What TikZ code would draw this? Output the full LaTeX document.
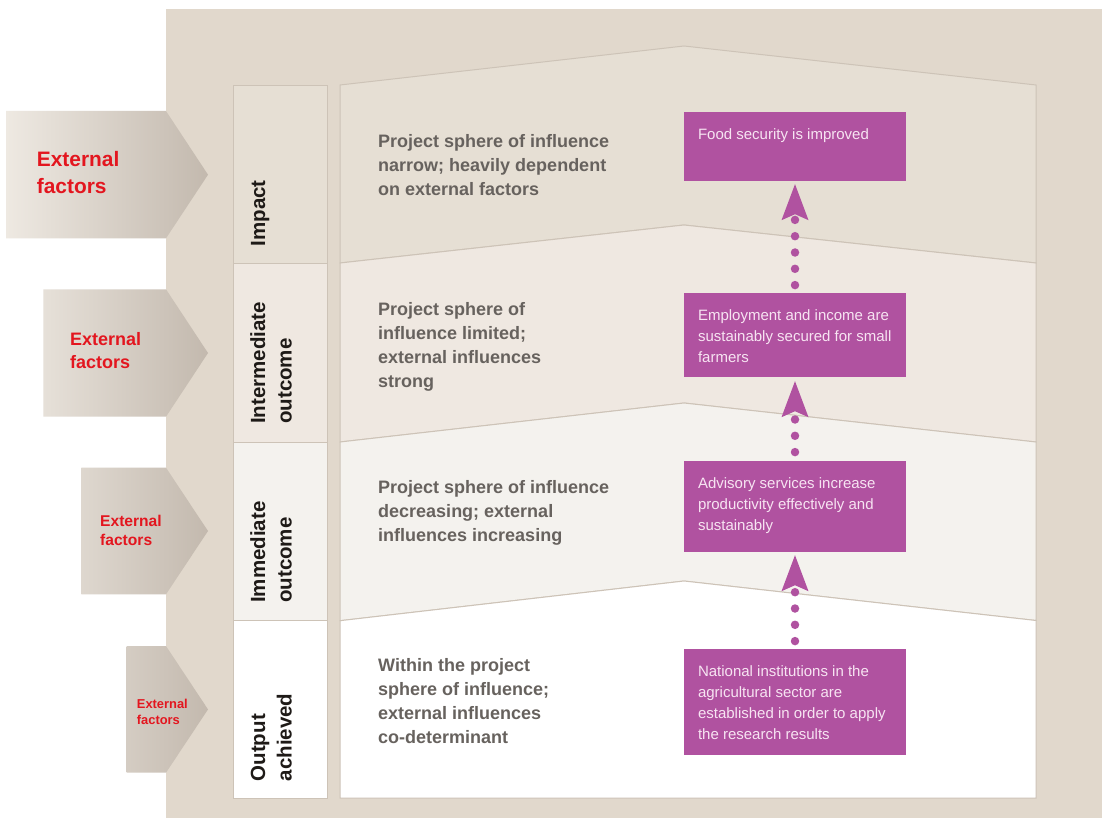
\documentclass[tikz,border=0pt]{standalone}
\usepackage{fontspec}
\setmainfont{Liberation Sans}
\usetikzlibrary{arrows.meta}
\definecolor{panel}{HTML}{E1D8CC}
\definecolor{bandA}{HTML}{E6DFD4}
\definecolor{bandB}{HTML}{EFE8E1}
\definecolor{bandC}{HTML}{F4F2EE}
\definecolor{bandD}{HTML}{FFFFFF}
\definecolor{edgecol}{HTML}{CDC3B7}
\definecolor{plum}{HTML}{B052A0}
\definecolor{plumtext}{HTML}{F7E4F2}
\definecolor{extred}{HTML}{E3161F}
\definecolor{graytext}{HTML}{67625E}
\definecolor{labeltext}{HTML}{1E1A17}
\definecolor{gradL}{HTML}{EEE9E2}
\definecolor{gradR}{HTML}{C3B9AE}
\tikzset{
  bandshape/.style={draw=edgecol, line width=1pt},
  cellshape/.style={draw=edgecol, line width=1pt},
  exttext/.style={text=extred, align=left, anchor=base west, inner sep=0pt},
  rowlabel/.style={rotate=90, anchor=base west, align=left, inner sep=0pt, text=labeltext,
    font=\fontsize{20.5}{26.7}\selectfont\bfseries},
  sphere/.style={anchor=base west, align=left, inner sep=0pt, text=graytext,
    font=\fontsize{18}{24}\selectfont\bfseries},
  resultbox/.style={rectangle, fill=plum, minimum width=222pt, inner sep=0pt, draw=none},
  resulttext/.style={anchor=base west, align=left, inner sep=0pt, text=plumtext,
    font=\fontsize{15}{21}\selectfont},
  dotarrow/.style={draw=plum, line width=8.5pt, line cap=round, dash pattern=on 0pt off 16.3pt,
    -{Stealth[length=36pt, width=27pt, inset=6pt, line width=0pt]}}
}
\begin{document}
\begin{tikzpicture}[x=1pt,y=-1pt]
\useasboundingbox (0,0) rectangle (1102,818);
\fill[white] (0,0) rectangle (1102,818);
% background panel
\fill[panel] (166,9) rectangle (1102,818);

% external factor arrows
\shade[left color=gradL, right color=gradR]
  (6,111) -- (166,111) -- (208,174.7) -- (166,238.3) -- (6,238.3) -- cycle;
\shade[left color=gradR!18.5!gradL, right color=gradR]
  (43.3,289.3) -- (166,289.3) -- (208,353) -- (166,416.7) -- (43.3,416.7) -- cycle;
\shade[left color=gradR!37.3!gradL, right color=gradR]
  (81.3,467.7) -- (166,467.7) -- (208,531) -- (166,594.3) -- (81.3,594.3) -- cycle;
\shade[left color=gradR!59.8!gradL, right color=gradR]
  (126.7,646) -- (166,646) -- (208,709.4) -- (166,772.7) -- (126.7,772.7) -- cycle;

% (multi-line nodes are anchored at the baseline of their last line)
\node[exttext, font=\fontsize{20.9}{26.7}\selectfont\bfseries] (ext1) at (36.7,193.4) {External\\factors};
\node[exttext, font=\fontsize{18}{23.3}\selectfont\bfseries] (ext2) at (70,368.3) {External\\factors};
\node[exttext, font=\fontsize{15.6}{19}\selectfont\bfseries] (ext3) at (100,545) {External\\factors};
\node[exttext, font=\fontsize{12.9}{15.7}\selectfont\bfseries] (ext4) at (136.7,724) {External\\factors};

% left column cells
\draw[cellshape, fill=bandA] (233,85.5) rectangle (327,263);
\draw[cellshape, fill=bandB] (233,263) rectangle (327,442);
\draw[cellshape, fill=bandC] (233,442) rectangle (327,620.7);
\draw[cellshape, fill=bandD] (233,620.7) rectangle (327,798);

% right bands
\draw[bandshape, fill=bandA] (340,85) -- (684,46) -- (1036,85) -- (1036,263) -- (684,225) -- (340,263) -- cycle;
\draw[bandshape, fill=bandB] (340,263) -- (684,225) -- (1036,263) -- (1036,442) -- (684,403) -- (340,442) -- cycle;
\draw[bandshape, fill=bandC] (340,442) -- (684,403) -- (1036,442) -- (1036,620.5) -- (684,581) -- (340,620.7) -- cycle;
\draw[bandshape, fill=bandD] (340,620.7) -- (684,581) -- (1036,620.5) -- (1036,798) -- (340,798) -- cycle;

% row labels
\node[rowlabel] (lab1) at (265,246.5) {Impact};
\node[rowlabel] (lab2) at (291.7,424) {Intermediate\\outcome};
\node[rowlabel] (lab3) at (291.7,603) {Immediate\\outcome};
\node[rowlabel] (lab4) at (291.7,781.5) {Output\\achieved};

% sphere texts
\node[sphere] (sph1) at (378,196) {Project sphere of influence\\narrow; heavily dependent\\on external factors};
\node[sphere] (sph2) at (378,387) {Project sphere of\\influence limited;\\external influences\\strong};
\node[sphere] (sph3) at (378,541) {Project sphere of influence\\decreasing; external\\influences increasing};
\node[sphere] (sph4) at (378,743.7) {Within the project\\sphere of influence;\\external influences\\co-determinant};

% result boxes
\node[resultbox, minimum height=69pt] (food) at (795,146.5) {};
\node[resultbox, minimum height=84pt] (emp) at (795,335) {};
\node[resultbox, minimum height=91pt] (adv) at (795,506.5) {};
\node[resultbox, minimum height=106pt] (nat) at (795,702) {};

\node[resulttext] (foodt) at ([xshift=14pt,yshift=-27.4pt]food.north west) {Food security is improved};
\node[resulttext] (empt) at ([xshift=14pt,yshift=-69.4pt]emp.north west) {Employment and income are\\sustainably secured for small\\farmers};
\node[resulttext] (advt) at ([xshift=14pt,yshift=-69.4pt]adv.north west) {Advisory services increase\\productivity effectively and\\sustainably};
\node[resulttext] (natt) at ([xshift=14pt,yshift=-90.4pt]nat.north west) {National institutions in the\\agricultural sector are\\established in order to apply\\the research results};

% dotted arrows
\draw[dotarrow] ([yshift=7.7pt]emp.north) -- ([yshift=-3pt]food.south);
\draw[dotarrow] ([yshift=8.7pt]adv.north) -- ([yshift=-4pt]emp.south);
\draw[dotarrow] ([yshift=7.7pt]nat.north) -- ([yshift=-3pt]adv.south);
\end{tikzpicture}
\end{document}
